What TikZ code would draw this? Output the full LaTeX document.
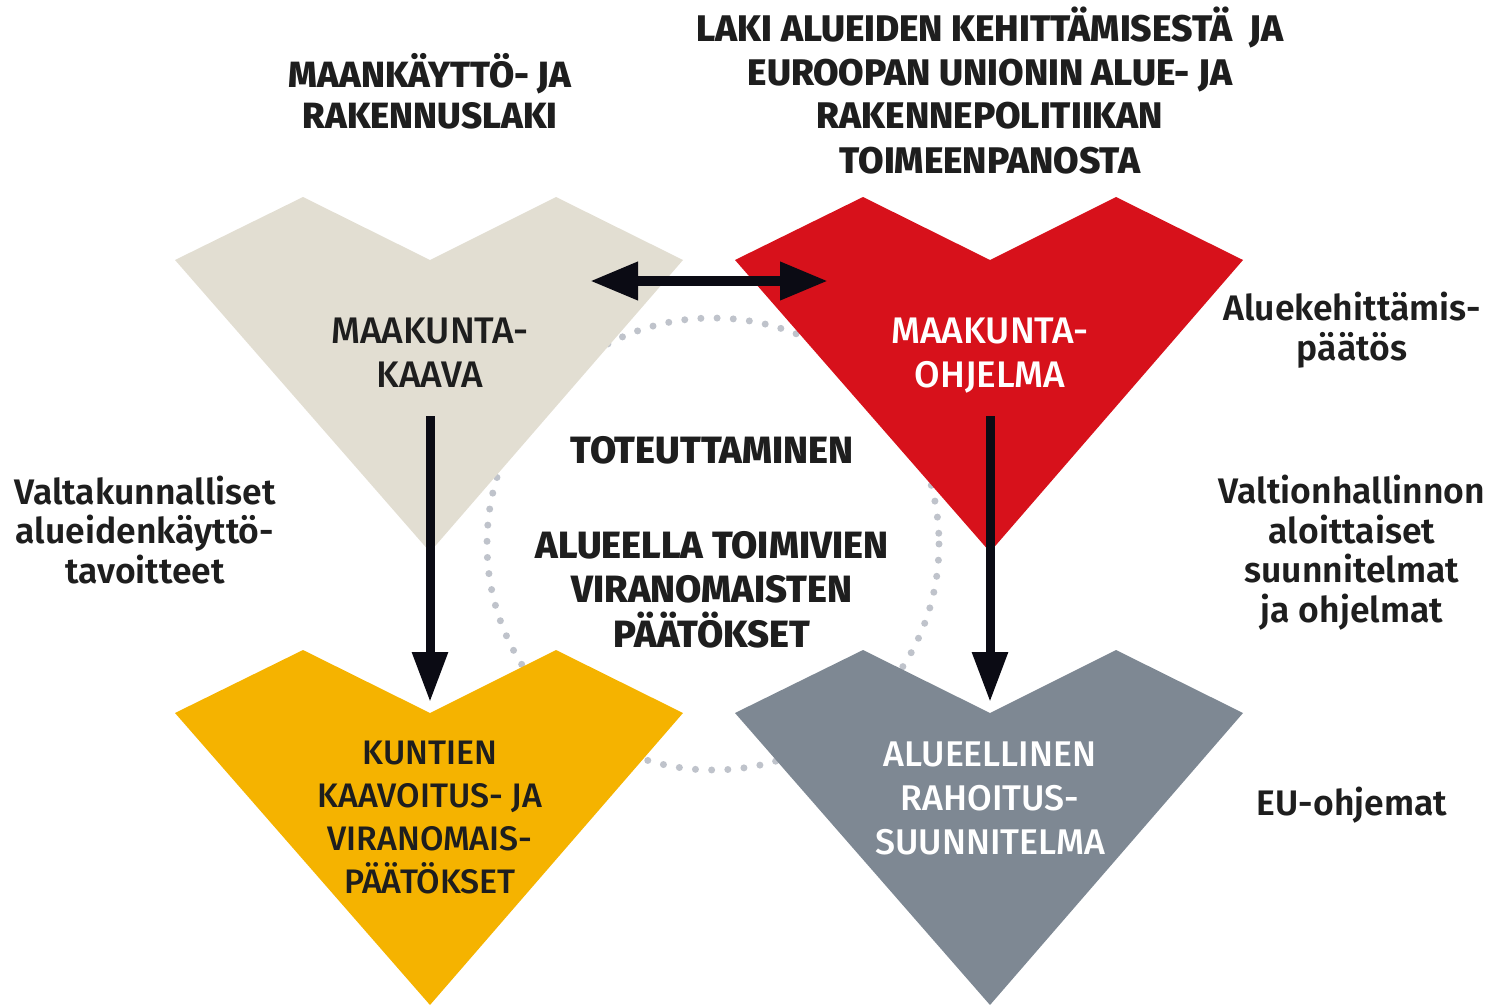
\documentclass[tikz,border=0pt]{standalone}
\usepackage{fontspec}
\setmainfont{Fira Sans}
\newfontfamily\firasb{Fira Sans SemiBold}
\newfontfamily\firamd{Fira Sans Medium}
\newfontfamily\firaeb{Fira Sans ExtraBold}
\usetikzlibrary{arrows.meta}
\definecolor{beige}{HTML}{E2DED2}
\definecolor{redc}{HTML}{D7111B}
\definecolor{yellowc}{HTML}{F5B300}
\definecolor{grayc}{HTML}{7E8893}
\definecolor{dotc}{HTML}{BFC3CB}
\definecolor{arrowc}{HTML}{0B0B14}
\definecolor{txt}{HTML}{1E1E1E}
\tikzset{headH/.tip={Triangle[length=48pt,width=36pt]},
         headV/.tip={Triangle[length=50pt,width=34pt]}}
\begin{document}
\begin{tikzpicture}[x=1pt,y=-1pt,
  chev/.pic={\path[fill=#1] (-255,0) -- (-127,-63) -- (0,0) -- (126,-63) -- (253,0) -- (0,292) -- cycle;},
  titletext/.style={font=\fontsize{37}{44}\selectfont\firaeb, align=center, text=txt, anchor=base, inner sep=0pt},
  centertext/.style={font=\fontsize{38}{44.5}\selectfont\firaeb, align=center, text=txt, anchor=base, inner sep=0pt},
  shapetext/.style={font=\fontsize{37}{44}\selectfont\firamd, align=center, anchor=base, inner sep=0pt},
  sidetext/.style={font=\fontsize{35.5}{39.5}\selectfont\firasb, align=center, text=txt, anchor=base, inner sep=0pt},
  bigarrow/.style={draw=arrowc, line width=9pt}]
\useasboundingbox (0,0) rectangle (1491,1006);
% dotted ring behind
\draw[dotc, line width=7pt, line cap=round, dash pattern=on 0pt off 16.2pt] (713,544) circle[radius=226];
% chevron shapes
\pic at (430,260) {chev=beige};
\pic at (990,260) {chev=redc};
\pic at (430,713) {chev=yellowc};
\pic at (990,713) {chev=grayc};
% labels (anchor = baseline of last line)
\node[titletext, font=\fontsize{36.5}{42}\selectfont\firaeb] (lawL) at (430,129) {MAANKÄYTTÖ- JA\\RAKENNUSLAKI};
\node[titletext] (lawR) at (990,173) {LAKI ALUEIDEN KEHITTÄMISESTÄ\ \ JA\\EUROOPAN UNIONIN ALUE- JA\\RAKENNEPOLITIIKAN\\TOIMEENPANOSTA};
\node[shapetext, text=txt] (kaava) at (430,387) {MAAKUNTA-\\KAAVA};
\node[shapetext, text=white] (ohjelma) at (990,387) {MAAKUNTA-\\OHJELMA};
\node[shapetext, text=txt, font=\fontsize{34}{42.7}\selectfont\firamd] (kunta) at (430,893) {KUNTIEN\\KAAVOITUS- JA\\VIRANOMAIS-\\PÄÄTÖKSET};
\node[shapetext, text=white, font=\fontsize{35.7}{44}\selectfont\firamd] (rahoitus) at (990,854) {ALUEELLINEN\\RAHOITUS-\\SUUNNITELMA};
\node[centertext] (toteutus) at (712,463) {TOTEUTTAMINEN};
\node[centertext] (viran) at (712,647) {ALUEELLA TOIMIVIEN\\VIRANOMAISTEN\\PÄÄTÖKSET};
\node[sidetext] (valtak) at (145,583) {Valtakunnalliset\\alueidenkäyttö-\\tavoitteet};
\node[sidetext] (alukeh) at (1352,360) {Aluekehittämis-\\päätös};
\node[sidetext] (valtion) at (1352,622) {Valtionhallinnon\\aloittaiset\\suunnitelmat\\ja ohjelmat};
\node[sidetext] (eu) at (1352,815) {EU-ohjemat};
% connectors
\coordinate (hL) at (590,281);
\coordinate (hR) at (828,281);
\coordinate (kaavaOut) at (430,416);
\coordinate (kuntaIn) at (430,702);
\coordinate (ohjOut) at (990,416);
\coordinate (rahIn) at (990,702);
\draw[bigarrow, line width=10pt, headH-headH] (hL) -- (hR);
\draw[bigarrow, -headV] (kaavaOut) -- (kuntaIn);
\draw[bigarrow, -headV] (ohjOut) -- (rahIn);
\end{tikzpicture}
\end{document}
